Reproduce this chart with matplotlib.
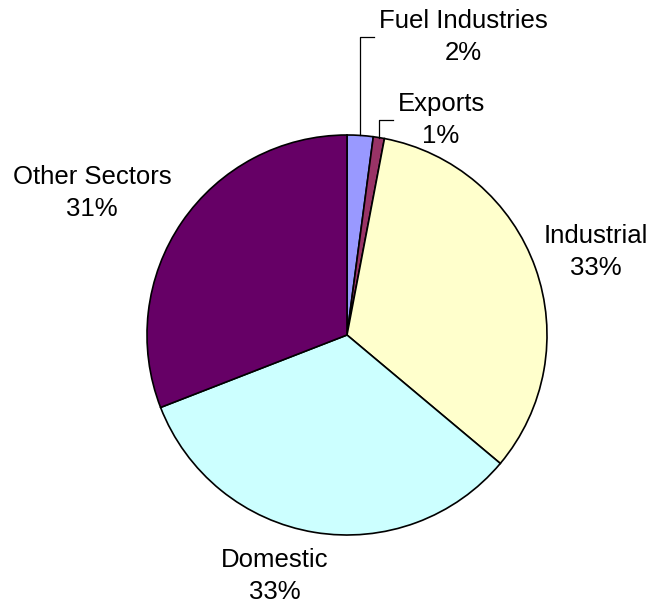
import numpy as np
import matplotlib
matplotlib.use("Agg")
import matplotlib.pyplot as plt

# ==========================================
# DATA
# ==========================================

sectors = ["Fuel Industries", "Exports", "Industrial", "Domestic", "Other Sectors"]
shares = [2.1, 0.9, 33.1, 33.0, 30.9]
pct_labels = ["2%", "1%", "33%", "33%", "31%"]
colors = ["#9999FF", "#993366", "#FFFFCC", "#CCFFFF", "#660066"]

plt.rcParams["font.family"] = ["Liberation Sans", "DejaVu Sans"]

# ==========================================
# FIGURE
# ==========================================

W, H = 657, 607
CX, CY, R = 347, 335, 200

fig = plt.figure(figsize=(W / 100, H / 100), dpi=100)
ax = fig.add_axes([0, 0, 1, 1])

wedges, _ = ax.pie(
    shares,
    colors=colors,
    startangle=90,
    counterclock=False,
    radius=1.0,
    wedgeprops=dict(edgecolor="black", linewidth=1.2),
)

ax.set_xlim(-CX / R, (W - CX) / R)
ax.set_ylim(-(H - CY) / R, CY / R)
ax.set_aspect("equal")
ax.axis("off")

# ==========================================
# LABELS
# ==========================================

label_pos = [
    (0.58, 1.49),
    (0.47, 1.075),
    (1.245, 0.415),
    (-0.36, -1.205),
    (-1.275, 0.71),
]

for name, pct, (lx, ly) in zip(sectors, pct_labels, label_pos):
    ax.text(lx, ly, f"{name}\n{pct}", ha="center", va="center",
            fontsize=18.5, linespacing=1.45, color="black")

# leader lines for the small slices
for i, (lx, ly) in enumerate(label_pos[:2]):
    w = wedges[i]
    mid = np.deg2rad((w.theta1 + w.theta2) / 2)
    x0 = np.cos(mid)
    y0 = np.sin(mid)
    x_end = x0 + 0.07
    ax.plot([x0, x0, x_end], [y0, ly, ly], color="black", lw=0.9)

fig.savefig("out.png", dpi=100)
